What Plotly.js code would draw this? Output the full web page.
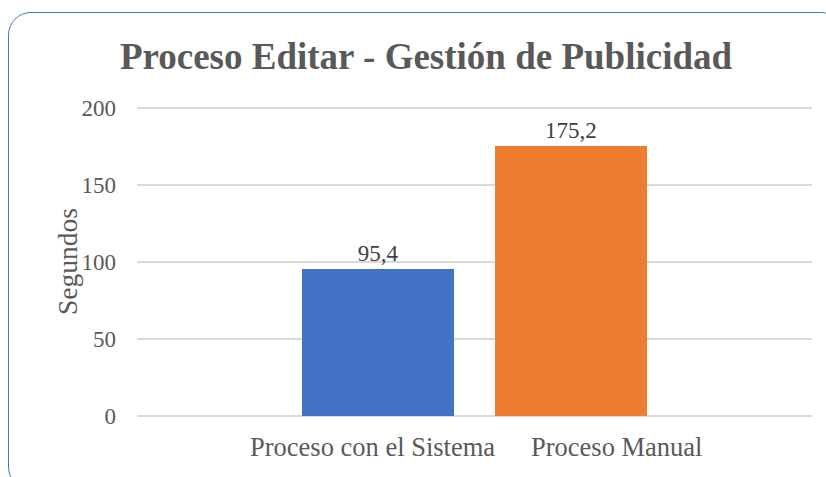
<!DOCTYPE html>
<html>
<head>
<meta charset="utf-8">
<script src="https://cdn.plot.ly/plotly-3.0.1.min.js"></script>
<style>
  html, body { margin: 0; padding: 0; background: #fff; }
  #wrap { position: relative; width: 826px; height: 477px; overflow: hidden; }
  #chart { width: 826px; height: 477px; }
  #frame { position: absolute; left: 8px; top: 12px; width: 836px; height: 478px;
           border: 1.7px solid #4472C4; border-radius: 23px; pointer-events: none; box-sizing: border-box; }
</style>
</head>
<body>
<div id="wrap">
  <div id="chart"></div>
  <div id="frame"></div>
</div>
<script>
const categories = ["Proceso con el Sistema", "Proceso Manual"];
const values = [95.4, 175.2];
const colors = ["#4472C4", "#ED7D31"];
const yTicks = [0, 50, 100, 150, 200];
const chartTitle = "Proceso Editar - Gestión de Publicidad";
const yTitle = "Segundos";
const labelCenters = [372.5, 616];

const font = "'Liberation Serif', 'Times New Roman', serif";
const grey = "#595959";

const traces = categories.map((c, i) => ({
  type: "bar",
  x: [c],
  y: [values[i]],
  marker: { color: colors[i] },
  width: 0.788,
  texttemplate: "%{y:.1f}",
  textposition: "outside",
  cliponaxis: false,
  textfont: { family: font, size: 23, color: "#404040" },
  hoverinfo: "skip",
  showlegend: false
}));

const plotTop = 104, plotBottom = 420;
const plotH = plotBottom - plotTop;
const annotations = categories.map((c, i) => ({
  text: c,
  xref: "paper", yref: "paper",
  x: (labelCenters[i] - 137) / 675, y: (plotBottom - 447) / plotH,
  xanchor: "center", yanchor: "middle",
  showarrow: false,
  font: { family: font, size: 26.5, color: grey }
}));
annotations.push({
  text: yTitle,
  xref: "paper", yref: "paper",
  x: (67 - 137) / 675, y: (plotBottom - 262) / plotH,
  xanchor: "center", yanchor: "middle",
  textangle: -90,
  showarrow: false,
  font: { family: font, size: 27.5, color: grey }
});

const layout = {
  width: 826, height: 477,
  margin: { l: 137, r: 14, t: plotTop, b: 477 - plotBottom },
  paper_bgcolor: "rgba(0,0,0,0)",
  plot_bgcolor: "rgba(0,0,0,0)",
  separators: ",.",
  title: {
    text: "<b>" + chartTitle + "</b>",
    xref: "container", yref: "container",
    x: 426 / 826, xanchor: "center",
    y: 1 - 56 / 477, yanchor: "middle",
    font: { family: font, size: 37, color: grey }
  },
  xaxis: {
    type: "category",
    categoryorder: "array", categoryarray: categories,
    range: [-1.249, 2.249],
    showticklabels: false,
    showgrid: false, zeroline: false, showline: false, ticks: ""
  },
  yaxis: {
    range: [-2.6, 202.6],
    tickvals: yTicks,
    ticktext: yTicks.map(String),
    showgrid: true, gridcolor: "#D9D9D9", gridwidth: 1.5,
    zeroline: false, showline: false, ticks: "",
    ticklabelstandoff: 20,
    tickfont: { family: font, size: 23, color: grey }
  },
  annotations: annotations,
  bargap: 0
};

Plotly.newPlot("chart", traces, layout, { displayModeBar: false, staticPlot: true });
</script>
</body>
</html>
